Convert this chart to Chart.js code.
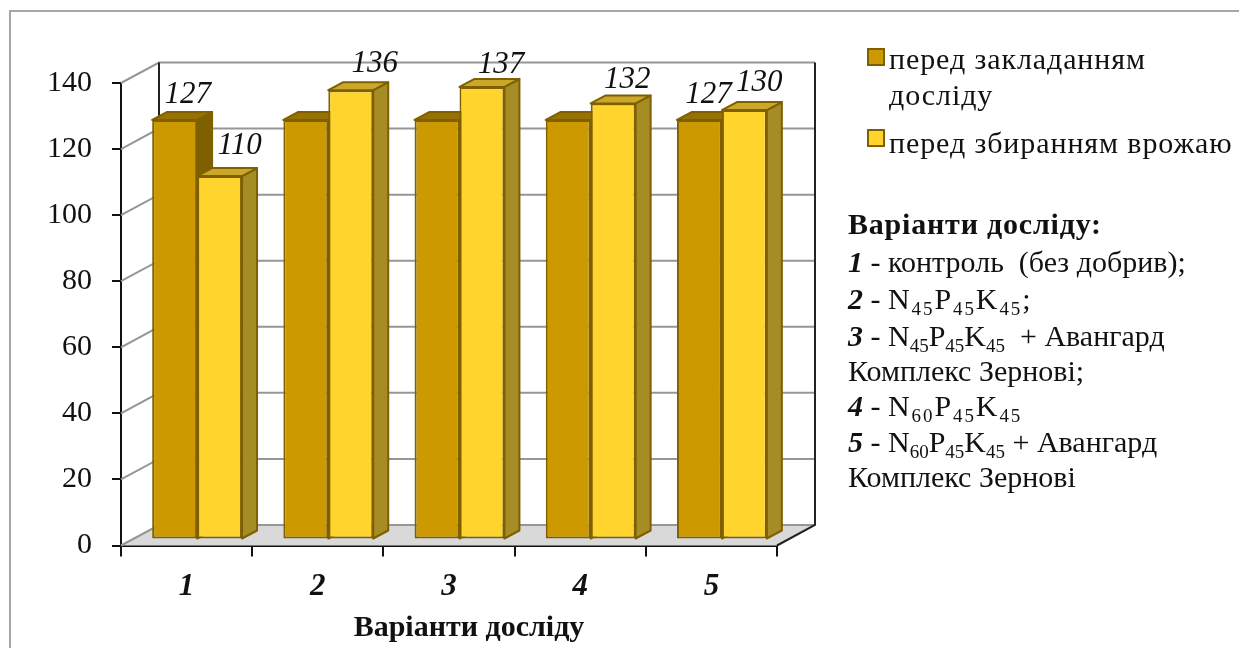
<!DOCTYPE html>
<html lang="uk">
<head>
<meta charset="utf-8">
<title>Варіанти досліду</title>
<script src="https://cdn.jsdelivr.net/npm/chart.js@4"></script>
<style>
  html, body { margin: 0; padding: 0; background: #fff; overflow: hidden; }
  .page { position: relative; width: 1239px; height: 648px; overflow: hidden; font-family: "Liberation Serif", serif; color: #111; }
  .frame { position: absolute; left: 9px; top: 10px; width: 1300px; height: 700px; border: 2px solid #a6a6a6; }
  canvas { position: absolute; left: 0; top: 0; }
  .legend-item { position: absolute; left: 889px; font-size: 30px; line-height: 36px; letter-spacing: 0.9px; white-space: nowrap; }
  .swatch { position: absolute; left: 867px; width: 14px; height: 14px; border: 2px solid #7f5f00; }
  .note { position: absolute; left: 848px; font-size: 30px; line-height: 36px; white-space: pre; }
  .note.head { font-weight: bold; letter-spacing: 0.8px; }
  .note sub { font-size: 19px; line-height: 0; vertical-align: -6px; }
  .wide { letter-spacing: 1.9px; }
</style>
</head>
<body>
<div class="page">
  <div class="frame"></div>
  <canvas id="myChart" width="1239" height="648"></canvas>
  <div id="legend"></div>
  <div id="notes"></div>
</div>
<script>
const categories = ["1", "2", "3", "4", "5"];
const beforeSowing = [127, 127, 127, 127, 127];
const beforeHarvest = [110, 136, 137, 132, 130];
const yTicks = [0, 20, 40, 60, 80, 100, 120, 140];
const seriesNames = ["перед закладанням<br>досліду", "перед збиранням врожаю"];
const axisTitle = "Варіанти досліду";
const notesTitle = "Варіанти досліду:";
const notesLines = [
  "<b><i>1</i></b> - контроль  (без добрив);",
  "<b><i>2</i></b> - <span class='wide'>N<sub>45</sub>P<sub>45</sub>K<sub>45</sub></span>;",
  "<b><i>3</i></b> - N<sub>45</sub>P<sub>45</sub>K<sub>45</sub>  + Авангард",
  "Комплекс Зернові;",
  "<b><i>4</i></b> - <span class='wide'>N<sub>60</sub>P<sub>45</sub>K<sub>45</sub></span>",
  "<b><i>5</i></b> - N<sub>60</sub>P<sub>45</sub>K<sub>45</sub> + Авангард",
  "Комплекс Зернові",
];
const notesTops = [244, 281, 318, 353, 388, 424, 459];

// кольори граней: передня, бокова, верхня
const faces = [
  { front: "#cc9900", side: "#7f6000", top: "#977200" },
  { front: "#ffd42d", side: "#a68c24", top: "#cca828" },
];
const edgeColor = "#7f5f00";

// глибина стін і самих стовпчиків
const wallDx = 38;
const wallDy = -20.5;
const barDx = 15;
const barDy = -8;
const barShiftX = 10.5;
const barShiftY = -6;

// зсув підписів відносно центру стовпчика, null - підпису немає
const labelNudge = [
  [[13, -17], null, null, null, [9, -17]],
  [[20, -22], [24, -18], [19, -14], [14, -15], [15, -19]],
];

const walls3d = {
  id: "walls3d",
  beforeDatasetsDraw(chart) {
    const { ctx, chartArea, scales } = chart;
    const { left, right, bottom, top } = chartArea;
    ctx.save();
    // підлога
    ctx.fillStyle = "#d9d9d9";
    ctx.beginPath();
    ctx.moveTo(left, bottom);
    ctx.lineTo(left + wallDx, bottom + wallDy);
    ctx.lineTo(right + wallDx, bottom + wallDy);
    ctx.lineTo(right, bottom);
    ctx.closePath();
    ctx.fill();
    // лінії сітки на боковій і задній стінках
    ctx.strokeStyle = "#969696";
    ctx.lineWidth = 2;
    yTicks.forEach((v) => {
      const y = scales.y.getPixelForValue(v);
      ctx.beginPath();
      ctx.moveTo(left, y);
      ctx.lineTo(left + wallDx, y + wallDy);
      ctx.lineTo(right + wallDx, y + wallDy);
      ctx.stroke();
    });
    // ребра задньої стінки
    ctx.strokeStyle = "#222";
    ctx.beginPath();
    ctx.moveTo(left + wallDx, top + wallDy);
    ctx.lineTo(left + wallDx, bottom + wallDy);
    ctx.moveTo(right + wallDx, top + wallDy);
    ctx.lineTo(right + wallDx, bottom + wallDy);
    ctx.lineTo(right, bottom);
    ctx.stroke();
    ctx.restore();

    // стовпчики стоять трохи вглибині підлоги; передні грані малює сама бібліотека
    ctx.save();
    ctx.translate(barShiftX, barShiftY);
    ctx.strokeStyle = edgeColor;
    ctx.lineWidth = 2;
    ctx.lineJoin = "round";
    [0, 1].forEach((ds) => {
      const face = faces[ds];
      chart.getDatasetMeta(ds).data.forEach((bar) => {
        const x0 = bar.x - bar.width / 2;
        const x1 = bar.x + bar.width / 2;
        ctx.fillStyle = face.side;
        ctx.beginPath();
        ctx.moveTo(x1, bar.y);
        ctx.lineTo(x1 + barDx, bar.y + barDy);
        ctx.lineTo(x1 + barDx, bar.base + barDy);
        ctx.lineTo(x1, bar.base);
        ctx.closePath();
        ctx.fill();
        ctx.stroke();
        ctx.fillStyle = face.top;
        ctx.beginPath();
        ctx.moveTo(x0, bar.y);
        ctx.lineTo(x0 + barDx, bar.y + barDy);
        ctx.lineTo(x1 + barDx, bar.y + barDy);
        ctx.lineTo(x1, bar.y);
        ctx.closePath();
        ctx.fill();
        ctx.stroke();
      });
    });
  },
  afterDatasetsDraw(chart) {
    const { ctx, chartArea } = chart;
    ctx.restore();
    ctx.save();
    ctx.font = "italic 31px 'Liberation Serif'";
    ctx.fillStyle = "#111";
    ctx.textAlign = "center";
    ctx.textBaseline = "alphabetic";
    [1, 0].forEach((ds) => {
      chart.getDatasetMeta(ds).data.forEach((bar, i) => {
        const nudge = labelNudge[ds][i];
        if (!nudge) return;
        const value = chart.data.datasets[ds].data[i];
        ctx.fillText(value, bar.x + barShiftX + nudge[0], bar.y + barShiftY + nudge[1]);
      });
    });
    // назва осі стоїть правіше центру осі
    ctx.font = "bold 30px 'Liberation Serif'";
    ctx.fillText(axisTitle, (chartArea.left + chartArea.right) / 2 + 20, 636);
    ctx.restore();
  },
};

const ctx = document.getElementById("myChart");
new Chart(ctx, {
  type: "bar",
  data: {
    labels: categories,
    datasets: [
      { data: beforeSowing, backgroundColor: faces[0].front, borderColor: edgeColor, borderWidth: 2, borderSkipped: false },
      { data: beforeHarvest, backgroundColor: faces[1].front, borderColor: edgeColor, borderWidth: 2, borderSkipped: false },
    ],
  },
  plugins: [walls3d],
  options: {
    responsive: false,
    animation: false,
    layout: { padding: { left: 0, right: 462, top: 83, bottom: 0 } },
    plugins: { legend: { display: false }, tooltip: { enabled: false } },
    datasets: { bar: { categoryPercentage: 0.685, barPercentage: 1 } },
    scales: {
      x: {
        afterFit(scale) { scale.height = 102.5; },
        grid: { drawOnChartArea: false, tickLength: 11, tickColor: "#111", lineWidth: 2 },
        border: { color: "#111", width: 2 },
        ticks: { color: "#111", padding: 12, font: { family: "'Liberation Serif'", size: 31, style: "italic", weight: "bold" } },
      },
      y: {
        min: 0,
        max: 140,
        afterFit(scale) { scale.width = 121; },
        grid: { drawOnChartArea: false, tickLength: 9, tickColor: "#111", lineWidth: 2 },
        border: { color: "#111", width: 2 },
        ticks: { stepSize: 20, color: "#111", padding: 20, font: { family: "'Liberation Serif'", size: 30 } },
      },
    },
  },
});

// легенда і перелік варіантів праворуч
const legendBox = document.getElementById("legend");
const swatchTops = [48, 129];
const textTops = [41, 125];
seriesNames.forEach((name, i) => {
  legendBox.innerHTML +=
    `<div class="swatch" style="top:${swatchTops[i]}px;background:${faces[i].front}"></div>` +
    `<div class="legend-item" style="top:${textTops[i]}px">${name}</div>`;
});
document.getElementById("notes").innerHTML =
  `<div class="note head" style="top:206px">${notesTitle}</div>` +
  notesLines.map((l, i) => `<div class="note" style="top:${notesTops[i]}px">${l}</div>`).join("");
</script>
</body>
</html>
